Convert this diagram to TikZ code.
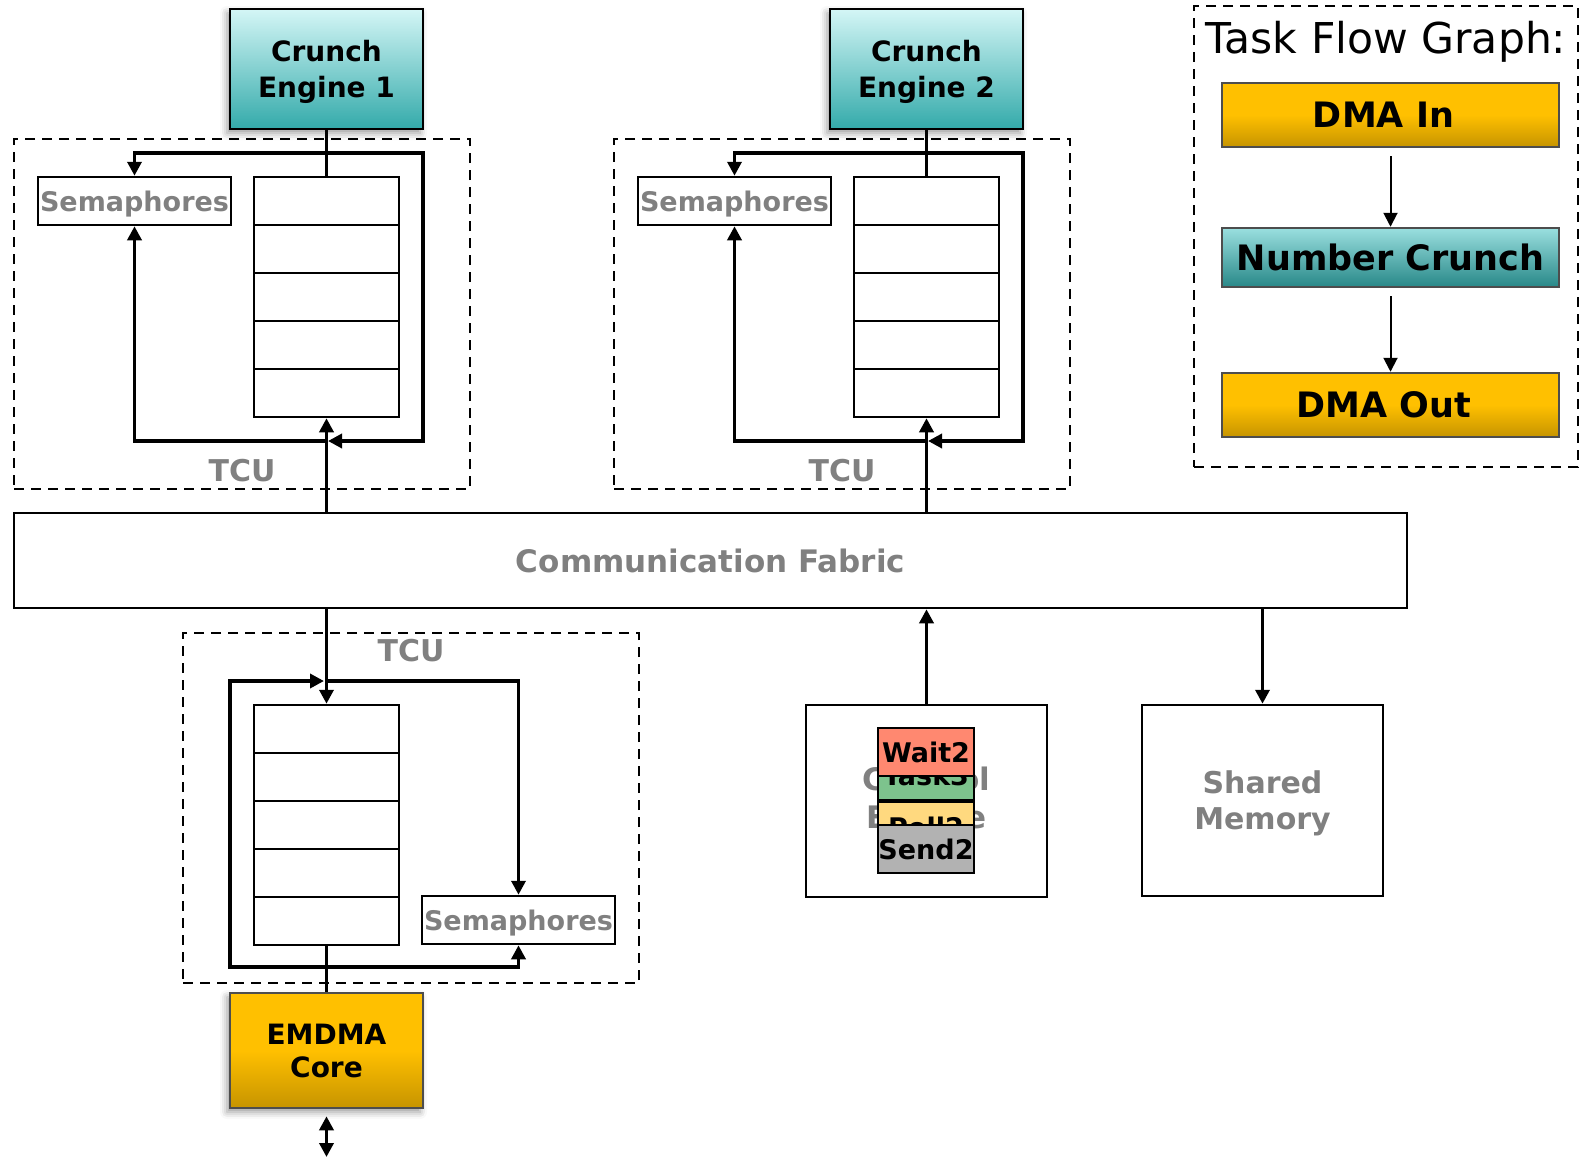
\documentclass[tikz,border=0pt]{standalone}
\usepackage{fontspec}
\setmainfont{DejaVu Sans}
\usetikzlibrary{arrows.meta,shadows.blur}

\definecolor{ornTop}{HTML}{FFC000}
\definecolor{ornBot}{HTML}{C69400}
\definecolor{tealTop}{HTML}{D4F6F6}
\definecolor{tealBot}{HTML}{33AAAA}
\definecolor{crTop}{HTML}{9ADFDF}
\definecolor{crBot}{HTML}{288888}
\definecolor{waitC}{HTML}{FF8870}
\definecolor{taskC}{HTML}{7DC38D}
\definecolor{pollC}{HTML}{FFD97F}
\definecolor{sendC}{HTML}{B2B2B2}
\definecolor{labelgray}{HTML}{808080}
\definecolor{rimgray}{HTML}{4D4D4D}

\tikzset{
  >={Triangle[length=14pt,width=14pt]},
  box/.style={draw, line width=2.5pt, inner sep=0pt, align=center},
  wire/.style={line width=3.5pt},
  flow/.style={line width=2pt, ->, >={Triangle[length=14pt,width=14pt]}, shorten <=8pt},
  tcubox/.style={draw, line width=2pt, dash pattern=on 10pt off 7pt},
  tculabel/.style={text=labelgray, inner sep=0pt, font=\bfseries\fontsize{30}{36}\selectfont},
  sema/.style={box, minimum width=193, minimum height=48, text depth=0pt, text=labelgray, font=\bfseries\fontsize{27}{30}\selectfont},
  cell/.style={box, minimum width=145, minimum height=48},
  engine/.style={box, minimum width=193, minimum height=120, text depth=0pt, top color=tealTop, bottom color=tealBot,
    font=\bfseries\fontsize{28}{36}\selectfont,
    blur shadow={shadow xshift=-3pt, shadow yshift=-4pt, shadow blur radius=7pt}},
  core/.style={box, draw=rimgray, minimum width=193, minimum height=115, top color=ornTop, bottom color=ornBot, middle color=ornTop,
    font=\bfseries\fontsize{28}{33}\selectfont,
    blur shadow={shadow xshift=-3pt, shadow yshift=-4pt, shadow blur radius=7pt}},
  item/.style={box, minimum width=96, font=\bfseries\fontsize{27}{30}\selectfont},
  itemtext/.style={inner sep=0pt, font=\bfseries\fontsize{27}{30}\selectfont},
  task/.style={box, draw=rimgray, minimum width=337, font=\bfseries\fontsize{35}{40}\selectfont},
}

\begin{document}
\begin{tikzpicture}[x=1pt,y=-1pt]
\useasboundingbox (0,0) rectangle (1580,1157);

% communication fabric
\node[box, minimum width=1393, minimum height=95, text=labelgray, font=\bfseries\fontsize{31}{36}\selectfont] (fabric) at (710.5,560.5) {Communication Fabric};

% crunch engines and their TCUs
\foreach \n/\dx in {1/0,2/600}{
  \node[tcubox, minimum width=456, minimum height=350] (tcu\n) at (242+\dx,314) {};
  \node[tculabel] at (242+\dx,471) {TCU};
  \node[engine] (ce\n) at (326.5+\dx,69) {Crunch\\Engine \n};
  \node[sema] (sem\n) at (134.5+\dx,201) {Semaphores};
  \foreach \i in {0,...,4}
    \node[cell] (q\n-\i) at (326.5+\dx,201+48*\i) {};
  \coordinate (t\n) at (326.5+\dx,153);
  \coordinate (b\n) at (328+\dx,441);
  \draw[wire] (ce\n.south) -- (q\n-0.north);
  \draw[wire,->] (t\n) -| (sem\n.north);
  \draw[wire,->] (t\n) -- ++(96.5,0) |- (b\n);
  \draw[wire,->] (b\n) -| (sem\n.south);
  \draw[wire,->] (fabric.north -| q\n-4.south) -- (q\n-4.south);
}

% EMDMA side
\node[tcubox, minimum width=456, minimum height=350] (tcu3) at (411,808) {};
\node[tculabel] at (411,651) {TCU};
\foreach \i in {0,...,4}
  \node[cell] (q3-\i) at (326.5,729+48*\i) {};
\node[sema] (sem3) at (518.5,920) {Semaphores};
\node[core] (emdma) at (326.5,1050.5) {EMDMA\\Core};
\coordinate (t3) at (326.5,681);
\coordinate (j3) at (326.5,967);
\coordinate (a3) at (324,681);
\coordinate (io) at (326.5,1157);
\draw[wire,->] (fabric.south -| q3-0.north) -- (q3-0.north);
\draw[wire] (q3-4.south) -- (emdma.north);
\draw[wire,->] (t3) -| (sem3.north);
\draw[wire,->] (j3) -| (sem3.south);
\draw[wire,->] (j3) -- ++(-96.5,0) |- (a3);
\draw[wire,<->] ([yshift=-7pt]emdma.south) -- (io);

% control engine
\node[box, minimum width=241, minimum height=192, text=labelgray, font=\bfseries\fontsize{31}{38}\selectfont] (ctl) at (926.5,801) {Control\\Engine};
\node[item, fill=taskC, minimum height=24] (tk3) at (926,788) {};
\node[itemtext] at (926,775) {Task3};
\node[item, fill=pollC, minimum height=23] (pl2) at (926,813.5) {};
\node[itemtext] at (926,827) {Poll2};
\node[item, fill=waitC, minimum height=48] (wt2) at (926,752) {Wait2};
\node[item, fill=sendC, minimum height=48] (sd2) at (926,849) {Send2};
\draw[wire,->] (ctl.north) -- (ctl.north |- fabric.south);

% shared memory
\node[box, minimum width=241, minimum height=191, text depth=0pt, text=labelgray, font=\bfseries\fontsize{30}{36}\selectfont] (shm) at (1262.5,800.5) {Shared\\Memory};
\draw[wire,->] (fabric.south -| shm.north) -- (shm.north);

% task flow graph
\node[tcubox, minimum width=384, minimum height=461] (tfg) at (1386,236.5) {};
\node[anchor=base, inner sep=0pt, font=\fontsize{42.5}{48}\selectfont] (tfgtitle) at (1386,53) {Task Flow Graph:};
\node[task, top color=ornTop, bottom color=ornBot, middle color=ornTop, minimum height=64] (dmain) at (1390.5,115) {DMA In\hspace*{14pt}};
\node[task, top color=crTop, bottom color=crBot, minimum height=59] (ncr) at (1390.5,257.5) {Number Crunch};
\node[task, top color=ornTop, bottom color=ornBot, middle color=ornTop, minimum height=64] (dmaout) at (1390.5,405) {DMA Out\hspace*{14pt}};
\draw[flow] (dmain) -- (ncr);
\draw[flow] (ncr) -- (dmaout);
\end{tikzpicture}
\end{document}
